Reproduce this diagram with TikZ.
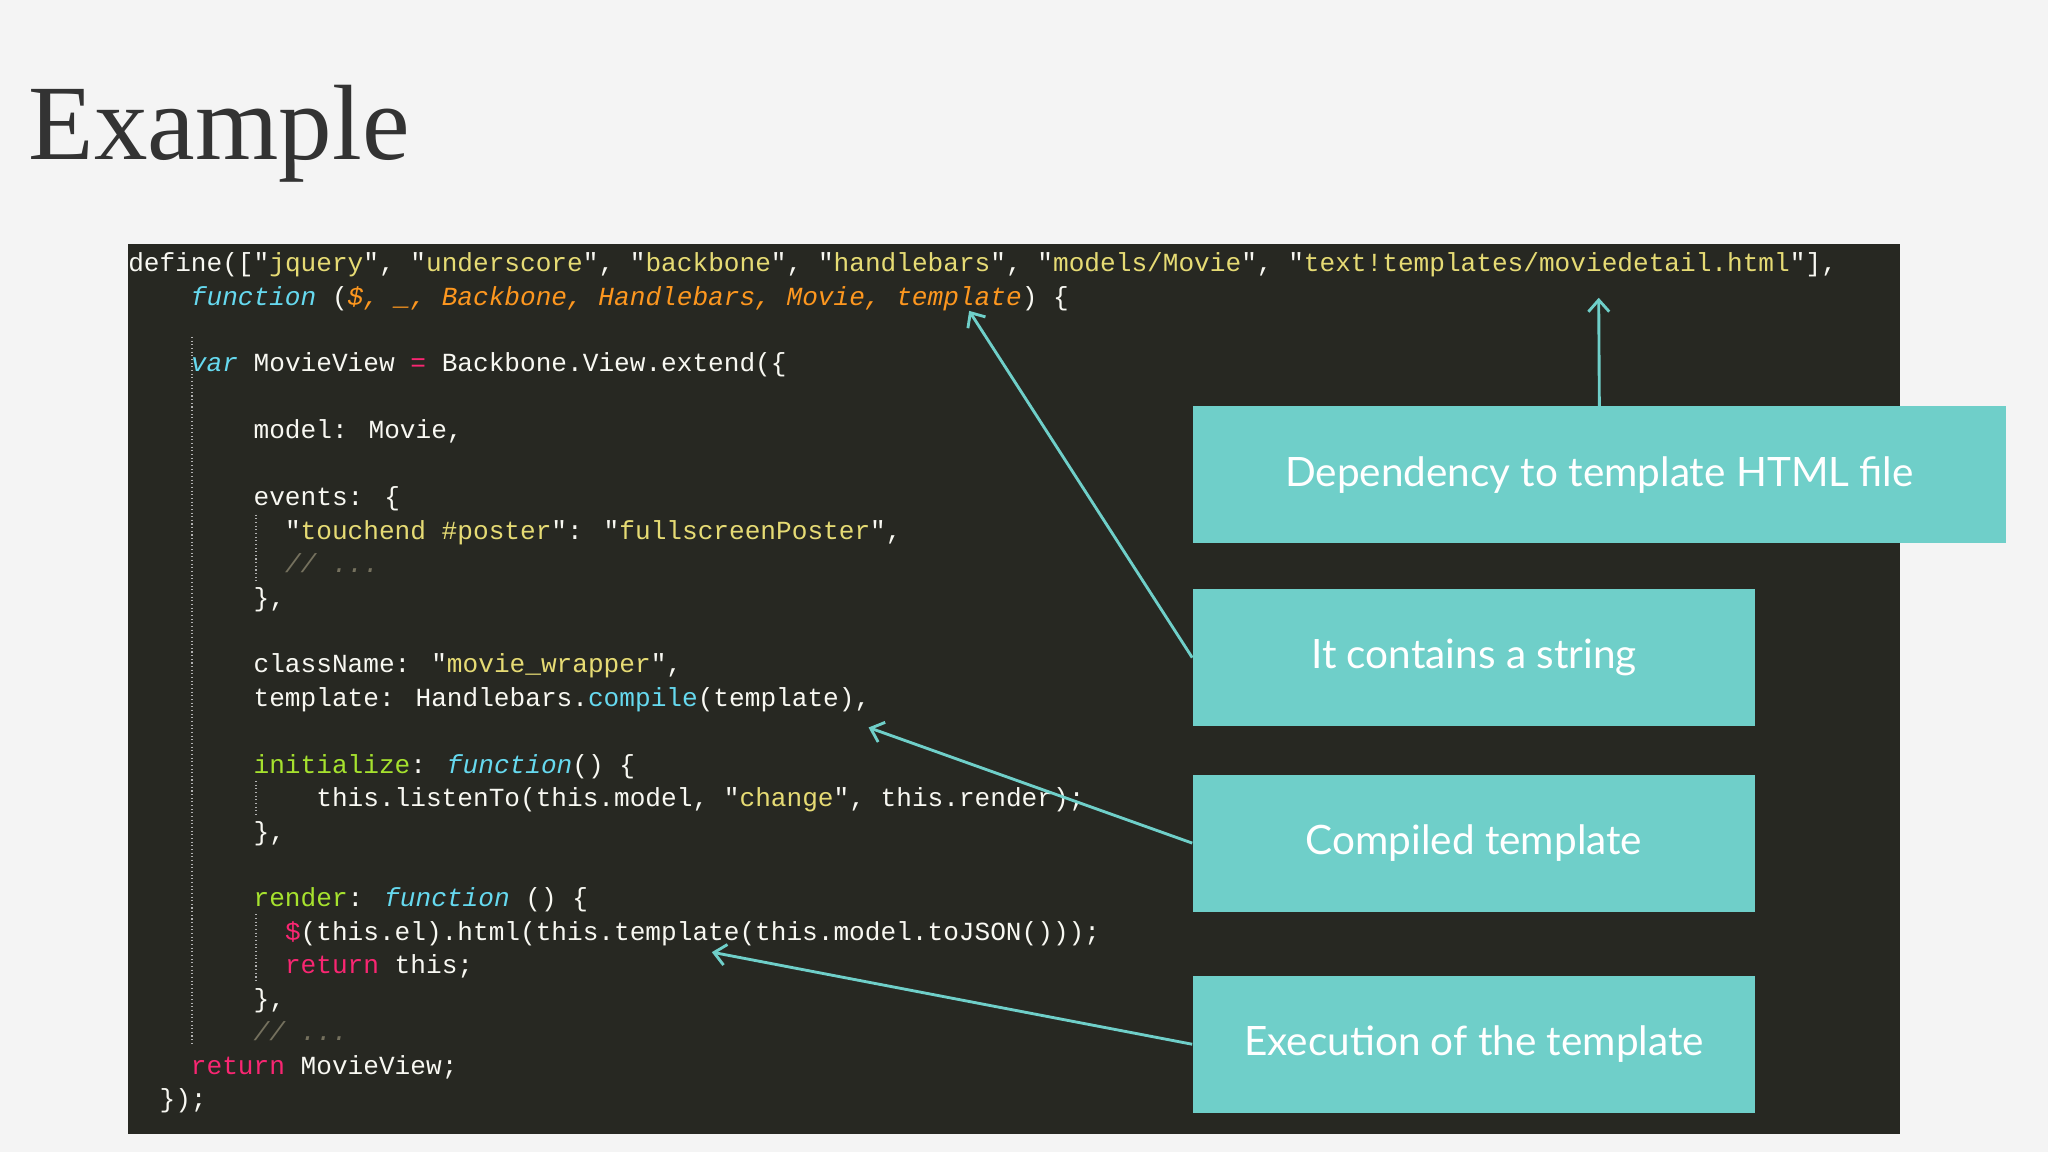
\documentclass[tikz,border=0pt]{standalone}
\usepackage{fontspec}
\setmainfont{Lato}
\newfontfamily\codefont{Liberation Mono}
\newfontfamily\titlefont{Liberation Serif}
\usetikzlibrary{arrows.meta}
\definecolor{pagebg}{HTML}{F4F4F4}
\definecolor{codebg}{HTML}{272822}
\definecolor{ctext}{HTML}{F8F8F2}
\definecolor{cstr}{HTML}{E6DB74}
\definecolor{cblue}{HTML}{66D9EF}
\definecolor{corange}{HTML}{FD971F}
\definecolor{cgreen}{HTML}{A6E22E}
\definecolor{cpink}{HTML}{F92672}
\definecolor{ccom}{HTML}{75715E}
\definecolor{teal}{HTML}{6FCFC9}
\newcommand{\cS}[1]{\textcolor{cstr}{#1}}
\newcommand{\cB}[1]{\textcolor{cblue}{#1}}
\newcommand{\cBI}[1]{\textcolor{cblue}{\itshape #1}}
\newcommand{\cO}[1]{\textcolor{corange}{\itshape #1}}
\newcommand{\cG}[1]{\textcolor{cgreen}{#1}}
\newcommand{\cP}[1]{\textcolor{cpink}{#1}}
\newcommand{\cC}[1]{\textcolor{ccom}{\itshape #1}}
\tikzset{
  codeline/.style={anchor=base west,inner sep=0pt,text=ctext,font=\codefont\fontsize{20}{24}\selectfont},
  callout/.style={fill=teal,text=white,inner sep=0pt,font=\fontsize{31}{36}\selectfont},
  pointer/.style={draw=teal,line width=2.2pt,-{Straight Barb[length=9pt,width=16pt,line width=2.2pt]}},
  guide/.style={draw=gray!60,dotted,line width=0.8pt}
}
\begin{document}
\begin{tikzpicture}[x=1pt,y=-1pt]
\fill[pagebg] (0,0) rectangle (1568,882);
\useasboundingbox (0,0) rectangle (1568,882);
\node[anchor=base west,inner sep=0pt,text=black!80,font=\titlefont\fontsize{82}{90}\selectfont] (title) at (22,122) {Example};
\fill[codebg] (98,187) rectangle (1455,868);
\draw[guide] (147,258) -- (147,800);
\draw[guide] (196,394) -- (196,446);
\draw[guide] (196,598) -- (196,625);
\draw[guide] (196,700) -- (196,752);
\def\ln#1{208+25.6*(#1-1)}
\node[codeline] (l1) at (98,{\ln{1}}) {define(["\cS{jquery}", "\cS{underscore}", "\cS{backbone}", "\cS{handlebars}", "\cS{models/Movie}", "\cS{text!templates/moviedetail.html}"],};
\node[codeline] (l2) at (146,{\ln{2}}) {\cBI{function} (\cO{\$, \_, Backbone, Handlebars, Movie, template}) \{};
\node[codeline] (l4) at (146,{\ln{4}}) {\cBI{var} MovieView \cP{=} Backbone.View.extend(\{};
\node[codeline] (l6) at (194,{\ln{6}}) {model: Movie,};
\node[codeline] (l8) at (194,{\ln{8}}) {events: \{};
\node[codeline] (l9) at (218,{\ln{9}}) {"\cS{touchend \#poster}": "\cS{fullscreenPoster}",};
\node[codeline] (l10) at (218,{\ln{10}}) {\cC{// ...}};
\node[codeline] (l11) at (194,{\ln{11}}) {\},};
\node[codeline] (l13) at (194,{\ln{13}}) {className: "\cS{movie\_wrapper}",};
\node[codeline] (l14) at (194,{\ln{14}}) {template: Handlebars.\cB{compile}(template),};
\node[codeline] (l16) at (194,{\ln{16}}) {\cG{initialize}: \cBI{function}() \{};
\node[codeline] (l17) at (242,{\ln{17}}) {this.listenTo(this.model, "\cS{change}", this.render);};
\node[codeline] (l18) at (194,{\ln{18}}) {\},};
\node[codeline] (l20) at (194,{\ln{20}}) {\cG{render}: \cBI{function} () \{};
\node[codeline] (l21) at (218,{\ln{21}}) {\cP{\$}(this.el).html(this.template(this.model.toJSON()));};
\node[codeline] (l22) at (218,{\ln{22}}) {\cP{return} this;};
\node[codeline] (l23) at (194,{\ln{23}}) {\},};
\node[codeline] (l24) at (194,{\ln{24}}) {\cC{// ...}};
\node[codeline] (l25) at (146,{\ln{25}}) {\cP{return} MovieView;};
\node[codeline] (l26) at (122,{\ln{26}}) {\});};
\node[callout,minimum width=623pt,minimum height=105pt] (b1) at (1224.5,363.5) {Dependency to template HTML file};
\node[callout,minimum width=431pt,minimum height=105pt] (b2) at (1128.5,503.5) {It contains a string};
\node[callout,minimum width=431pt,minimum height=105pt] (b3) at (1128.5,645.5) {Compiled template};
\node[callout,minimum width=431pt,minimum height=105pt] (b4) at (1128.5,799.5) {Execution of the template};
\coordinate (t1) at (1224,228);
\coordinate (t2) at (742,238);
\coordinate (t3) at (665,557);
\coordinate (t4) at (545,729);
\draw[pointer] (b1.north) -- (t1);
\draw[pointer] (b2.west) -- (t2);
\draw[pointer] (b3.west) -- (t3);
\draw[pointer] (b4.west) -- (t4);
\end{tikzpicture}
\end{document}
